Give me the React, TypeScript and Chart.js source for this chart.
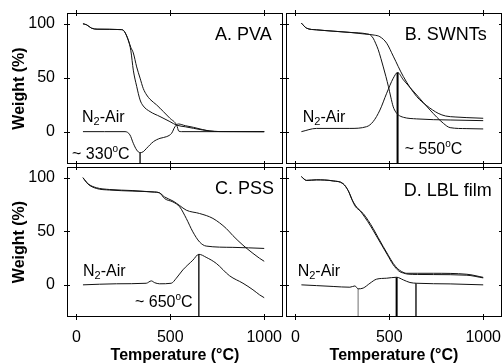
import React, { useEffect, useRef } from "react";
import { Chart, registerables } from "chart.js";

Chart.register(...registerables);

const FONT_FAMILY = "'Liberation Sans', Arial, Helvetica, sans-serif";

// ---- axes ----
const X_MIN = -50;
const X_MAX = 1100;
const Y_MIN = -30;
const Y_MAX = 110;
const xTickValues = [0, 500, 1000];
const yTickValues = [0, 50, 100];
const xAxisTitle = "Temperature (°C)";
const yAxisTitle = "Weight (%)";

// ---- Panel A: PVA ----
const pvaT1 = [35, 55, 80, 110, 240, 255, 276, 290, 303, 321, 339, 356, 374, 392, 427, 463, 498, 534, 545, 560, 1000];
const pvaW1 = [100, 99, 96, 95, 94.6, 93, 85, 78, 73, 60, 49.6, 40, 34, 30, 24.8, 18.6, 12.4, 6, 0.5, 0, 0];
const pvaT2 = [35, 55, 80, 110, 240, 255, 276, 290, 303, 321, 339, 356, 392, 445, 498, 534, 580, 623, 670, 711, 760, 1000];
const pvaW2 = [100, 99, 96, 95, 94.6, 93, 85, 75, 57, 42, 29.4, 23.8, 18.6, 14, 9.3, 6, 4.5, 3.1, 1.6, 0.6, 0.1, 0];
const pvaDtaT = [35, 150, 259, 285, 303, 321, 339, 356, 374, 410, 445, 481, 507, 525, 543, 580, 623, 670, 711, 760, 1000];
const pvaDtaW = [0, 0, 0, -3, -10.8, -17, -19.5, -18.6, -15.4, -9.3, -6.2, -4.6, -1.5, 4.6, 7.1, 5.5, 4, 2, 0.6, 0.1, 0];
const pvaPeakT = 339;
const pvaPeakW = -19.5;

// ---- Panel B: SWNTs ----
const swntT1 = [32, 59, 112, 200, 290, 379, 400, 414, 427, 441, 455, 468, 482, 495, 508, 521, 535, 548, 575, 646, 824, 1000];
const swntW1 = [100.6, 96, 94.4, 93.2, 92, 90.7, 89.5, 86.7, 82, 76, 68, 60, 51, 42, 32, 23, 18, 15.5, 13.3, 11.8, 10.8, 10.2];
const swntT2 = [32, 59, 112, 290, 370, 420, 450, 486, 521, 575, 646, 700, 760, 800, 850, 913, 1000];
const swntW2 = [100.6, 96, 94.4, 92, 90.5, 89.5, 88, 82, 70, 51, 32.5, 24, 17, 14.5, 13.6, 13, 12.4];
const swntDtaT = [32, 112, 290, 379, 414, 450, 486, 521, 544, 575, 646, 717, 788, 824, 913, 1000];
const swntDtaW = [0, 3, 3, 4.6, 9.3, 20, 35.6, 49.5, 54.8, 48, 34, 20, 7.7, 3.7, 2.8, 2.5];
const swntPeakT = 544;
const swntPeakW = 54.8;

// ---- Panel C: PSS ----
const pssT1 = [35, 62, 106, 177, 301, 408, 443, 470, 514, 550, 585, 620, 656, 691, 833, 1000];
const pssW1 = [100, 94.4, 90.7, 89, 88, 86.7, 85.8, 80.5, 77.4, 72.8, 62, 49.5, 40, 36.2, 35, 34];
const pssT2 = [35, 62, 106, 177, 301, 408, 443, 470, 514, 550, 585, 656, 727, 798, 833, 887, 940, 975, 1000];
const pssW2 = [100, 94, 90, 88.5, 87.5, 86.7, 85.8, 82, 78.3, 74, 69.7, 66.6, 62, 52.6, 46, 37, 29.4, 24.8, 22];
const pssDtaT = [35, 213, 372, 399, 417, 443, 505, 532, 567, 620, 652, 691, 745, 816, 887, 940, 975, 1000];
const pssDtaW = [0, 1, 1.5, 3.7, 2, 1, 1.5, 6.2, 14, 23, 28.5, 25.7, 20, 8.4, 1.5, -4.6, -9.3, -12];
const pssPeakT = 652;
const pssPeakW = 28.5;

// ---- Panel D: LBL film ----
const lblT1 = [32, 59, 112, 201, 254, 281, 308, 334, 361, 388, 414, 441, 468, 495, 521, 545, 566, 592, 650, 735, 913, 1000];
const lblW1 = [101, 97.5, 98, 97, 94.4, 88, 77.4, 71, 66.6, 60, 52.6, 44, 35.6, 27.5, 20, 15, 12.4, 10.8, 10.8, 10.8, 9.9, 7];
const lblT2 = [32, 59, 112, 201, 254, 281, 300, 320, 345, 370, 400, 430, 460, 490, 520, 550, 575, 600, 650, 735, 913, 1000];
const lblW2 = [101, 97.5, 98, 97, 94.4, 88, 80, 73, 69, 63, 55, 46, 37, 28, 19, 13, 11, 10, 9.7, 9.6, 9, 6.5];
const lblDtaT = [32, 112, 201, 290, 317, 334, 361, 397, 432, 486, 539, 575, 610, 646, 824, 1000];
const lblDtaW = [0, -0.7, -1.5, -2.2, -1, -3.7, -3, 1.5, 5.3, 6.2, 7.1, 4.6, 2.2, 1.5, 0.9, 0];
const lblPeakT = [334, 539, 642];
const lblPeakW = [-3.7, 7.1, 1.6];

type Part = { text: string; size: number; dy: number };
type Label = { t: number; w: number; parts: Part[] };
type Series = { t: number[]; w: number[]; color: string; width: number; straight?: boolean };
type PanelDef = {
  box: { left: number; top: number; right: number; bottom: number };
  showX: boolean;
  showY: boolean;
  series: Series[];
  labels: Label[];
};

const W_PAGE = 502;
const H_PAGE = 364;

const curve = (t: number[], w: number[]): Series => ({ t, w, color: "#111", width: 1 });
const drop = (t: number, w: number, color = "#000", width = 1.3): Series => ({
  t: [t, t],
  w: [w, Y_MIN],
  color,
  width,
  straight: true,
});
const n2Air = (t: number, w: number): Label => ({
  t,
  w,
  parts: [
    { text: "N", size: 16, dy: 0 },
    { text: "2", size: 11, dy: 4 },
    { text: "-Air", size: 16, dy: 0 },
  ],
});
const degLabel = (value: string, t: number, w: number): Label => ({
  t,
  w,
  parts: [
    { text: "~ " + value, size: 16, dy: 0 },
    { text: "o", size: 10, dy: -6 },
    { text: "C", size: 16, dy: 0 },
  ],
});
const titleLabel = (text: string, t: number, w: number): Label => ({
  t,
  w,
  parts: [{ text, size: 18, dy: 0 }],
});

const panels: PanelDef[] = [
  {
    box: { left: 67, top: 13, right: 283, bottom: 164 },
    showX: false,
    showY: true,
    series: [curve(pvaT1, pvaW1), curve(pvaT2, pvaW2), curve(pvaDtaT, pvaDtaW), drop(pvaPeakT, pvaPeakW)],
    labels: [titleLabel("A. PVA", 738, 90), n2Air(30, 12.7), degLabel("330", -23, -21.6)],
  },
  {
    box: { left: 286, top: 13, right: 502, bottom: 164 },
    showX: false,
    showY: false,
    series: [curve(swntT1, swntW1), curve(swntT2, swntW2), curve(swntDtaT, swntDtaW), drop(swntPeakT, swntPeakW, "#000", 2)],
    labels: [titleLabel("B. SWNTs", 582, 90), n2Air(39, 12.7), degLabel("550", 582, -17)],
  },
  {
    box: { left: 67, top: 167, right: 283, bottom: 317 },
    showX: true,
    showY: true,
    series: [curve(pssT1, pssW1), curve(pssT2, pssW2), curve(pssDtaT, pssDtaW), drop(pssPeakT, pssPeakW)],
    labels: [titleLabel("C. PSS", 738, 89.8), n2Air(35, 12), degLabel("650", 312, -16.7)],
  },
  {
    box: { left: 286, top: 167, right: 502, bottom: 317 },
    showX: true,
    showY: false,
    series: [
      curve(lblT1, lblW1),
      curve(lblT2, lblW2),
      curve(lblDtaT, lblDtaW),
      drop(lblPeakT[0], lblPeakW[0], "#888", 1.2),
      drop(lblPeakT[1], lblPeakW[1], "#000", 2),
      drop(lblPeakT[2], lblPeakW[2], "#000", 1.3),
    ],
    labels: [titleLabel("D. LBL film", 577, 88), n2Air(12, 12)],
  },
];

const framePlugin = {
  id: "frame",
  afterDraw(chart: any, _args: any, opts: any) {
    const { ctx, chartArea: a, scales } = chart;
    ctx.save();
    ctx.strokeStyle = "#000";
    ctx.lineWidth = 1;
    ctx.strokeRect(a.left + 0.5, a.top + 0.5, a.right - a.left - 1, a.bottom - a.top - 1);
    ctx.beginPath();
    for (const v of xTickValues) {
      const px = Math.round(scales.x.getPixelForValue(v)) + 0.5;
      ctx.moveTo(px, a.top - 3);
      ctx.lineTo(px, a.top + 3);
      ctx.moveTo(px, a.bottom - 3);
      ctx.lineTo(px, a.bottom + 3);
    }
    for (const v of yTickValues) {
      const py = Math.round(scales.y.getPixelForValue(v)) + 0.5;
      ctx.moveTo(a.left - 3, py);
      ctx.lineTo(a.left + 3, py);
      ctx.moveTo(a.right - 3, py);
      ctx.lineTo(a.right + 3, py);
    }
    ctx.stroke();
    ctx.fillStyle = "#000";
    ctx.textBaseline = "middle";
    ctx.textAlign = "left";
    for (const lab of (opts.labels || []) as Label[]) {
      let x = scales.x.getPixelForValue(lab.t);
      const y = scales.y.getPixelForValue(lab.w);
      for (const p of lab.parts) {
        ctx.font = `${p.size}px ${FONT_FAMILY}`;
        ctx.fillText(p.text, x, y + p.dy);
        x += ctx.measureText(p.text).width;
      }
    }
    ctx.restore();
  },
};

function buildConfig(p: PanelDef): any {
  const xAxisHeight = p.showX ? H_PAGE - p.box.bottom : 0;
  return {
    type: "line",
    data: {
      datasets: p.series.map((s) => ({
        data: s.t.map((t, i) => ({ x: t, y: s.w[i] })),
        borderColor: s.color,
        borderWidth: s.width,
        pointRadius: 0,
        fill: false,
        tension: 0,
        cubicInterpolationMode: s.straight ? "default" : "monotone",
      })),
    },
    options: {
      responsive: false,
      animation: false,
      events: [],
      layout: {
        padding: {
          left: 0,
          top: p.box.top,
          right: W_PAGE - p.box.right,
          bottom: p.showX ? 0 : H_PAGE - p.box.bottom,
        },
      },
      plugins: {
        legend: { display: false },
        tooltip: { enabled: false },
        frame: { labels: p.labels },
      },
      scales: {
        x: {
          type: "linear",
          min: X_MIN,
          max: X_MAX,
          afterBuildTicks: (s: any) => {
            s.ticks = xTickValues.map((v) => ({ value: v }));
          },
          afterFit: (s: any) => {
            s.height = xAxisHeight;
            s.paddingLeft = 0;
            s.paddingRight = 0;
          },
          grid: { display: false, drawTicks: false },
          border: { display: false },
          ticks: {
            display: p.showX,
            padding: 11,
            color: "#000",
            font: { family: FONT_FAMILY, size: 16 },
            maxRotation: 0,
            autoSkip: false,
            callback: (v: any) => String(v),
          },
          title: {
            display: p.showX,
            text: xAxisTitle,
            color: "#000",
            font: { family: FONT_FAMILY, size: 16, weight: "bold" },
            padding: { top: 0, bottom: -1 },
          },
        },
        y: {
          type: "linear",
          min: Y_MIN,
          max: Y_MAX,
          afterBuildTicks: (s: any) => {
            s.ticks = yTickValues.map((v) => ({ value: v }));
          },
          afterFit: (s: any) => {
            s.width = p.box.left;
            s.paddingTop = 0;
            s.paddingBottom = 0;
          },
          grid: { display: false, drawTicks: false },
          border: { display: false },
          ticks: {
            display: p.showY,
            padding: 12,
            color: "#000",
            font: { family: FONT_FAMILY, size: 16 },
            autoSkip: false,
            callback: (v: any) => String(v),
          },
          title: {
            display: p.showY,
            text: yAxisTitle,
            color: "#000",
            font: { family: FONT_FAMILY, size: 16, weight: "bold" },
            padding: { top: 10, bottom: 0 },
          },
        },
      },
    },
    plugins: [framePlugin],
  };
}

function Panel({ def }: { def: PanelDef }) {
  const ref = useRef<HTMLCanvasElement>(null);
  useEffect(() => {
    const chart = new Chart(ref.current as HTMLCanvasElement, buildConfig(def));
    return () => chart.destroy();
  }, [def]);
  return (
    <canvas
      ref={ref}
      width={W_PAGE}
      height={H_PAGE}
      style={{ position: "absolute", left: 0, top: 0, width: W_PAGE, height: H_PAGE }}
    />
  );
}

export default function App() {
  return (
    <div
      style={{
        position: "fixed",
        left: 0,
        top: 0,
        width: W_PAGE,
        height: H_PAGE,
        background: "#fff",
        overflow: "hidden",
      }}
    >
      {panels.map((p, i) => (
        <Panel key={i} def={p} />
      ))}
    </div>
  );
}
